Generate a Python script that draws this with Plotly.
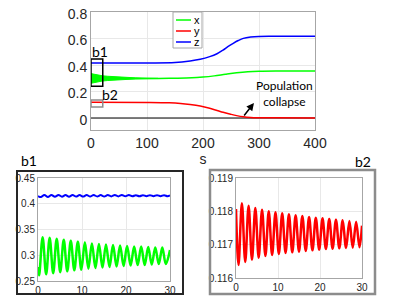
import plotly.graph_objects as go

W, H = 395, 296
PAGE_OFFSET = 8  # default body margin of the html page

# ---------------- main plot data ----------------
s_band = [0, 10, 20, 30, 45, 60, 80, 100, 120]
x_upper = [0.335, 0.325, 0.319, 0.315, 0.310, 0.306, 0.303, 0.3005, 0.2995]
x_lower = [0.262, 0.272, 0.279, 0.283, 0.288, 0.292, 0.295, 0.297, 0.298]

s_x = [0, 60, 120, 150, 180, 200, 220, 240, 260, 280, 300, 330, 400]
x_main = [0.299, 0.299, 0.299, 0.300, 0.303, 0.309, 0.318, 0.330, 0.341, 0.349, 0.353, 0.355, 0.355]

s_z = [0, 100, 150, 177, 195, 212, 225, 236, 245, 254, 263, 272, 285, 300, 330, 400]
z_main = [0.415, 0.415, 0.418, 0.430, 0.443, 0.463, 0.485, 0.513, 0.540, 0.564, 0.585, 0.601, 0.611, 0.616, 0.617, 0.617]

s_y = [0, 100, 140, 160, 177, 195, 212, 225, 236, 248, 260, 272, 285, 300, 330, 400]
y_main = [0.118, 0.1175, 0.115, 0.110, 0.102, 0.090, 0.073, 0.057, 0.043, 0.030, 0.018, 0.009, 0.004, 0.002, 0.001, 0.0]

s_w = [0, 400]
w_main = [0.0, 0.0]

main_xticks = [0, 100, 200, 300, 400]
main_yticks = [0, 0.2, 0.4, 0.6, 0.8]

# ---------------- inset b1 data (x green, z blue) ----------------
b1_start = (0.0, 0.277)
b1_end = (30.0, 0.310)
b1_peak_t = [1.05, 2.65, 4.25, 5.85, 7.45, 9.05, 10.65, 12.25, 13.85, 15.45,
             17.05, 18.65, 20.25, 21.85, 23.45, 25.05, 26.65, 28.25]
b1_peak_v = [0.335, 0.334, 0.332, 0.330, 0.328, 0.326, 0.325, 0.323, 0.322, 0.321,
             0.320, 0.319, 0.318, 0.317, 0.317, 0.316, 0.315, 0.315]
b1_trough_t = [0.25, 1.85, 3.45, 5.05, 6.65, 8.25, 9.85, 11.45, 13.05, 14.65,
               16.25, 17.85, 19.45, 21.05, 22.65, 24.25, 25.85, 27.45, 29.05]
b1_trough_v = [0.261, 0.263, 0.265, 0.267, 0.269, 0.271, 0.272, 0.274, 0.275, 0.276,
               0.277, 0.278, 0.279, 0.280, 0.281, 0.281, 0.282, 0.283, 0.283]

b1z_start = (0.0, 0.4150)
b1z_end = (30.0, 0.4160)
b1z_peak_t = [1.45, 3.05, 4.65, 6.25, 7.85, 9.45, 11.05, 12.65, 14.25, 15.85,
              17.45, 19.05, 20.65, 22.25, 23.85, 25.45, 27.05, 28.65]
b1z_peak_v = [0.4172, 0.4171, 0.4171, 0.4170, 0.4170, 0.4169, 0.4169, 0.4169, 0.4168, 0.4168,
              0.4168, 0.4168, 0.4168, 0.4167, 0.4167, 0.4167, 0.4167, 0.4167]
b1z_trough_t = [0.65, 2.25, 3.85, 5.45, 7.05, 8.65, 10.25, 11.85, 13.45, 15.05,
                16.65, 18.25, 19.85, 21.45, 23.05, 24.65, 26.25, 27.85, 29.45]
b1z_trough_v = [0.4130, 0.4133, 0.4135, 0.4137, 0.4138, 0.4139, 0.4140, 0.4141, 0.4142, 0.4142,
                0.4143, 0.4143, 0.4144, 0.4144, 0.4144, 0.4145, 0.4145, 0.4145, 0.4145]

# ---------------- inset b2 data (y red) ----------------
b2_start = (0.0, 0.11807)
b2_end = (30.0, 0.11757)
b2_peak_t = [1.4, 3.0, 4.6, 6.2, 7.8, 9.4, 11.0, 12.6, 14.2, 15.8,
             17.4, 19.0, 20.6, 22.2, 23.8, 25.4, 27.0, 28.6]
b2_peak_v = [0.11824, 0.11817, 0.11810, 0.11805, 0.11800, 0.11797, 0.11794, 0.11791, 0.11788, 0.11786,
             0.11783, 0.11781, 0.11779, 0.11777, 0.11775, 0.11773, 0.11771, 0.11769]
b2_trough_t = [0.6, 2.2, 3.8, 5.4, 7.0, 8.6, 10.2, 11.8, 13.4, 15.0,
               16.6, 18.2, 19.8, 21.4, 23.0, 24.6, 26.2, 27.8, 29.4]
b2_trough_v = [0.11639, 0.11648, 0.11655, 0.11661, 0.11666, 0.11669, 0.11672, 0.11675, 0.11677, 0.11679,
               0.11681, 0.11683, 0.11685, 0.11687, 0.11688, 0.11689, 0.11690, 0.11691, 0.11692]

inset_xticks = [0, 10, 20, 30]
b1_yticks = [0.25, 0.3, 0.35, 0.4, 0.45]
b2_yticks = [0.116, 0.117, 0.118, 0.119]

legend_names = ["x", "y", "z"]
GREEN, RED, BLUE, BLACK = "#00ff00", "#ff0000", "#0000ff", "#000000"


def merge(start, pt, pv, tt, tv, end):
    pts = [start] + list(zip(pt, pv)) + list(zip(tt, tv)) + [end]
    pts.sort(key=lambda p: p[0])
    return [p[0] for p in pts], [p[1] for p in pts]


def fx(p):
    return (p - PAGE_OFFSET) / W


def fy(p):
    return 1 - (p - PAGE_OFFSET) / H


fig = go.Figure()

# main plot
fig.add_trace(go.Scatter(x=s_w, y=w_main, mode="lines", line=dict(color=BLACK, width=1.2), xaxis="x", yaxis="y"))
fig.add_trace(go.Scatter(x=s_band, y=x_upper, mode="lines", line=dict(color=GREEN, width=1), xaxis="x", yaxis="y"))
fig.add_trace(go.Scatter(x=s_band, y=x_lower, mode="lines", line=dict(color=GREEN, width=1), fill="tonexty",
                         fillcolor=GREEN, xaxis="x", yaxis="y"))
fig.add_trace(go.Scatter(x=s_x, y=x_main, mode="lines", line=dict(color=GREEN, width=1.5, shape="spline"), xaxis="x", yaxis="y"))
fig.add_trace(go.Scatter(x=s_y, y=y_main, mode="lines", line=dict(color=RED, width=1.5, shape="spline"), xaxis="x", yaxis="y"))
fig.add_trace(go.Scatter(x=s_z, y=z_main, mode="lines", line=dict(color=BLUE, width=1.5, shape="spline"), xaxis="x", yaxis="y"))

# inset b1
tb, vb = merge(b1z_start, b1z_peak_t, b1z_peak_v, b1z_trough_t, b1z_trough_v, b1z_end)
fig.add_trace(go.Scatter(x=tb, y=vb, mode="lines", line=dict(color=BLUE, width=2, shape="spline"), xaxis="x2", yaxis="y2"))
tg, vg = merge(b1_start, b1_peak_t, b1_peak_v, b1_trough_t, b1_trough_v, b1_end)
fig.add_trace(go.Scatter(x=tg, y=vg, mode="lines", line=dict(color=GREEN, width=2.5, shape="spline"), xaxis="x2", yaxis="y2"))

# inset b2
tr, vr = merge(b2_start, b2_peak_t, b2_peak_v, b2_trough_t, b2_trough_v, b2_end)
fig.add_trace(go.Scatter(x=tr, y=vr, mode="lines", line=dict(color=RED, width=2.5, shape="spline"), xaxis="x3", yaxis="y3"))

TICKFONT = dict(family="Liberation Sans, Arial", size=14, color="#262626")
SMALLFONT = dict(family="Liberation Sans, Arial", size=10, color="#262626")
AX = dict(showgrid=True, gridcolor="#e8e8e8", showline=True, linecolor="#a6a6a6", linewidth=1,
          mirror=True, ticks="", zeroline=False, automargin=False, ticklabeloverflow="allow")

fig.update_layout(
    width=W, height=H, margin=dict(l=0, r=0, t=0, b=0, pad=0), autosize=False,
    paper_bgcolor="white", plot_bgcolor="white", showlegend=False,
    xaxis=dict(AX, domain=[fx(91), fx(315)], range=[0, 400], tickvals=main_xticks, tickfont=TICKFONT,
               title=dict(text="s", font=TICKFONT, standoff=2), anchor="y"),
    yaxis=dict(AX, domain=[fy(130), fy(12)], range=[-0.0906, 0.8001], tickvals=main_yticks,
               ticktext=[str(v) for v in main_yticks], tickfont=TICKFONT, anchor="x", ticklabelshift=2),
    xaxis2=dict(AX, domain=[fx(38), fx(170)], range=[0, 30], tickvals=inset_xticks, tickfont=SMALLFONT, anchor="y2"),
    yaxis2=dict(AX, domain=[fy(281), fy(178)], range=[0.25, 0.45], tickvals=b1_yticks,
                ticktext=[str(v) for v in b1_yticks], tickfont=SMALLFONT, anchor="x2"),
    xaxis3=dict(AX, domain=[fx(236), fx(362)], range=[0, 30], tickvals=inset_xticks, tickfont=SMALLFONT, anchor="y3"),
    yaxis3=dict(AX, domain=[fy(278), fy(178)], range=[0.116, 0.119], tickvals=b2_yticks,
                ticktext=[str(v) for v in b2_yticks], tickfont=SMALLFONT, anchor="x3"),
)

shapes = []
# zoom rectangles in main plot
shapes.append(dict(type="rect", xref="x", yref="y", x0=0, x1=21, y0=0.24, y1=0.445,
                   line=dict(color="#000000", width=1.5)))
shapes.append(dict(type="rect", xref="x", yref="y", x0=0, x1=21, y0=0.083, y1=0.136,
                   line=dict(color="#8c8c8c", width=1.5)))
# inset frames
shapes.append(dict(type="rect", xref="paper", yref="paper", x0=fx(17), x1=fx(183), y0=fy(294), y1=fy(171),
                   line=dict(color="#262626", width=2)))
shapes.append(dict(type="rect", xref="paper", yref="paper", x0=fx(210), x1=fx(375), y0=fy(294), y1=fy(170),
                   line=dict(color="#8c8c8c", width=2.5)))
# manual legend box
shapes.append(dict(type="rect", xref="paper", yref="paper", x0=fx(173), x1=fx(202), y0=fy(48), y1=fy(12),
                   fillcolor="white", line=dict(color="#a6a6a6", width=1), layer="above"))
leg_colors = [GREEN, RED, BLUE]
leg_y = [20, 31, 42]
for c, yy in zip(leg_colors, leg_y):
    shapes.append(dict(type="line", xref="paper", yref="paper", x0=fx(176), x1=fx(191), y0=fy(yy), y1=fy(yy),
                       line=dict(color=c, width=1.5)))
fig.update_layout(shapes=shapes)

ANNFONT = dict(family="Lato, Open Sans", size=14, color="#000000")
ann = []
for name, yy in zip(legend_names, leg_y):
    ann.append(dict(xref="paper", yref="paper", x=fx(192), y=fy(yy), text=name, showarrow=False,
                    xanchor="left", yanchor="middle", font=dict(family="Liberation Sans, Arial", size=11, color="#000")))
for txt, cx, cy in [("b1", 100, 51), ("b2", 110, 95), ("b1", 29, 160), ("b2", 363, 161)]:
    ann.append(dict(xref="paper", yref="paper", x=fx(cx), y=fy(cy), text=txt, showarrow=False,
                    xanchor="center", yanchor="middle", font=ANNFONT))
ann.append(dict(xref="paper", yref="paper", x=fx(284), y=fy(93), text="Population<br>collapse", showarrow=False,
                xanchor="center", yanchor="middle",
                font=dict(family="Lato, Open Sans", size=12, color="#000")))
ann.append(dict(xref="x", yref="y", x=291, y=0.113, ax=-11, ay=14, text="", showarrow=True,
                arrowhead=2, arrowsize=1, arrowwidth=1.5, arrowcolor="#000"))
fig.update_layout(annotations=ann)

fig.write_html("out.html")
